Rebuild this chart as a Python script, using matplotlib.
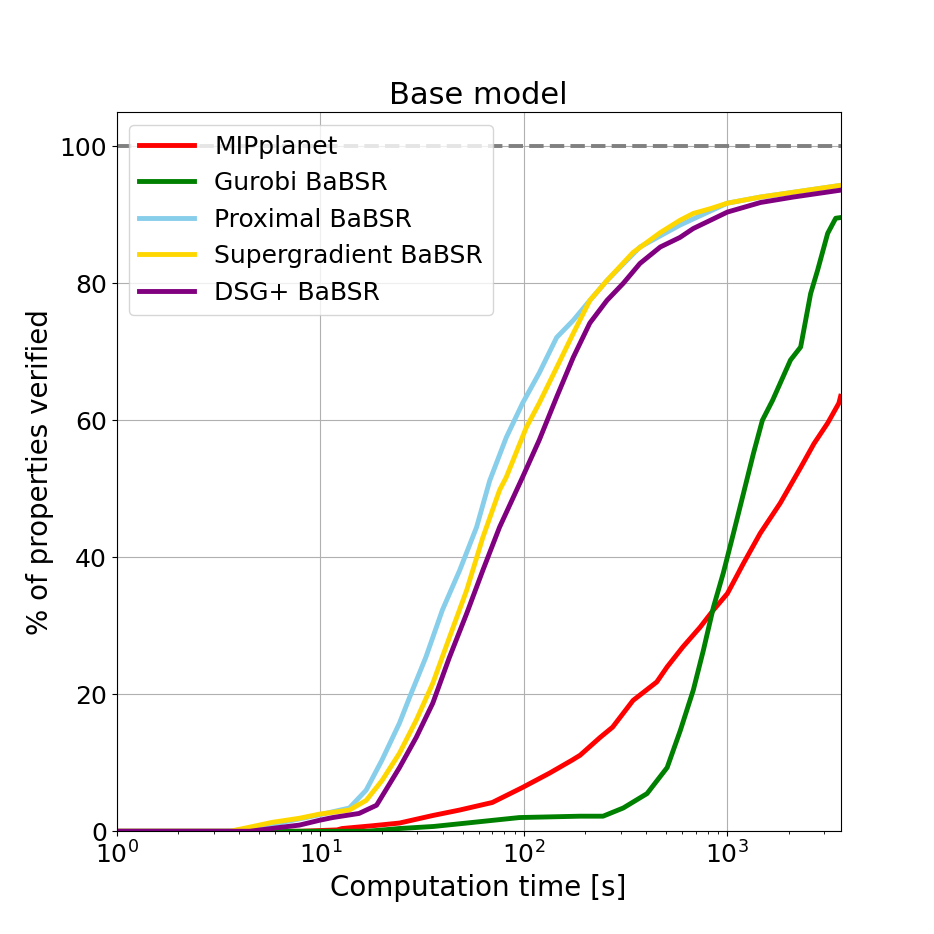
"""cumulative verification curves for the base model"""
import matplotlib
matplotlib.use("Agg")
import matplotlib.pyplot as plt

# time [s] / % verified
mip_t = [1, 8, 12.1, 12.8, 18, 24.5, 35.7, 48.4, 70, 98.6, 134, 173, 189, 237, 273,
         344, 450, 506, 604, 735, 854, 1000, 1199, 1450, 1818, 2291, 2665, 3111, 3530, 3600]
mip_v = [0, 0, 0.2, 0.4, 0.8, 1.2, 2.3, 3.1, 4.2, 6.4, 8.5, 10.4, 11.1, 13.7, 15.2,
         19.1, 21.8, 24.0, 26.9, 29.8, 32.3, 34.7, 39.1, 43.5, 47.9, 53.1, 56.6, 59.6, 62.5, 63.5]

gur_t = [1, 17, 24.5, 36, 52.4, 76, 95, 189, 245, 308, 403, 506, 587, 680, 762, 854,
         955, 1071, 1199, 1344, 1486, 1667, 2043, 2291, 2565, 2775, 3111, 3406, 3600]
gur_v = [0, 0, 0.4, 0.7, 1.2, 1.7, 2.0, 2.2, 2.2, 3.4, 5.5, 9.3, 14.7, 20.6, 26.4, 32.7,
         37.7, 43.5, 49.3, 55.2, 60.0, 62.9, 68.8, 70.7, 78.5, 81.9, 87.3, 89.5, 89.6]

prox_t = [1, 3.6, 4.5, 5.8, 7.9, 9.9, 13.9, 16.8, 20.1, 24.5, 27.5, 33, 39.8, 48.4, 58.6,
          68, 82, 98.6, 119, 145, 175, 211, 256, 372, 585, 1000, 1455, 2114, 3600]
prox_v = [0, 0, 0.4, 1.0, 1.8, 2.4, 3.4, 6.0, 10.4, 15.8, 19.6, 25.4, 32.3, 38.1, 44.4,
          51.2, 57.5, 62.5, 66.9, 72.1, 74.6, 77.5, 80.4, 85.3, 88.5, 91.7, 92.6, 93.3, 94.3]

sg_t = [1, 3.6, 4.5, 5.8, 7.9, 9.9, 13.9, 16.8, 20.1, 24.5, 29.6, 35.7, 43.1, 52.4, 62.9,
        76, 82, 103, 119, 145, 175, 211, 256, 344, 468, 585, 680, 825, 1000, 1455, 2114, 3600]
sg_v = [0, 0, 0.6, 1.3, 1.9, 2.5, 3.1, 4.5, 7.4, 11.4, 16.2, 21.6, 28.3, 35.2, 42.9,
        49.8, 51.7, 59.0, 62.5, 67.7, 72.7, 77.5, 80.4, 84.5, 87.4, 89.2, 90.2, 90.9, 91.7,
        92.6, 93.3, 94.3]

dsg_t = [1, 4.5, 6.5, 7.9, 9.9, 11.5, 15.5, 18.9, 24.5, 29.6, 35.7, 43.1, 52.4, 62.9, 76,
         98.6, 119, 145, 175, 211, 256, 308, 372, 468, 585, 680, 825, 1000, 1455, 2114, 3600]
dsg_v = [0, 0, 0.6, 0.9, 1.6, 2.0, 2.6, 3.8, 9.3, 13.7, 18.7, 25.4, 31.8, 38.1, 44.4,
         51.7, 57.1, 63.4, 69.2, 74.2, 77.5, 80.0, 82.9, 85.3, 86.7, 88.0, 89.2, 90.4,
         91.8, 92.6, 93.6]

series = [
    ("MIPplanet", mip_t, mip_v, "red"),
    ("Gurobi BaBSR", gur_t, gur_v, "green"),
    ("Proximal BaBSR", prox_t, prox_v, "skyblue"),
    ("Supergradient BaBSR", sg_t, sg_v, "gold"),
    ("DSG+ BaBSR", dsg_t, dsg_v, "purple"),
]

plt.rcParams["font.size"] = 18
fig, ax = plt.subplots(figsize=(9.34, 9.34), dpi=100)

ax.axhline(100, color="grey", linestyle="--", linewidth=2.8)
for name, t, v, c in series:
    ax.plot(t, v, color=c, linewidth=3.5, label=name)

ax.set_xscale("log")
ax.set_xlim(1, 3600)
ax.set_ylim(0, 105)
ax.grid(True)
ax.set_title("Base model", fontsize=22)
ax.set_xlabel("Computation time [s]", fontsize=20)
ax.set_ylabel("% of properties verified", fontsize=20)
ax.legend(loc="upper left", fontsize=18, handlelength=2.2)

fig.savefig("out.png", dpi=100)
